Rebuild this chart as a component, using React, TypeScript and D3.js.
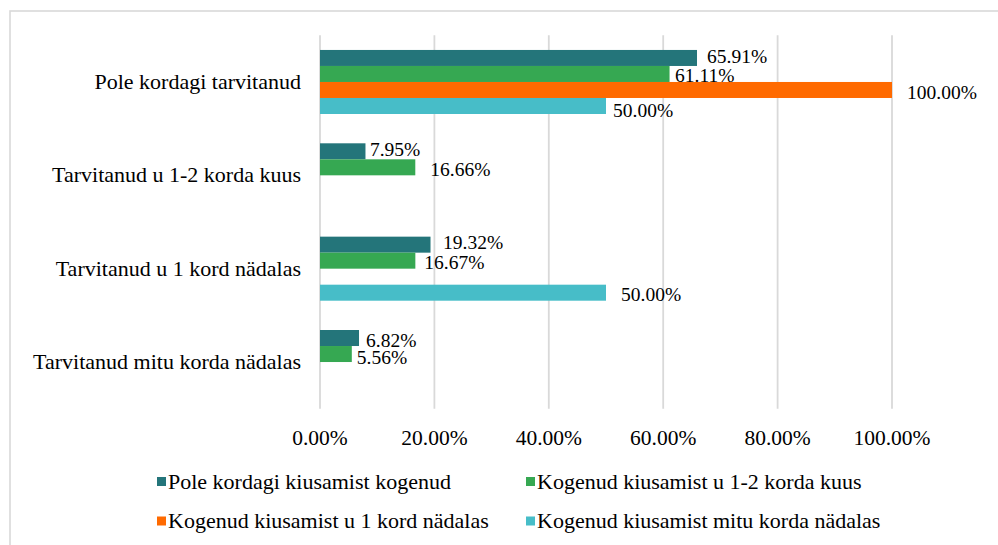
import React from "react";
import * as d3 from "d3";

const categories = [
  "Pole kordagi tarvitanud",
  "Tarvitanud u 1-2 korda kuus",
  "Tarvitanud u 1 kord nädalas",
  "Tarvitanud mitu korda nädalas",
];

const seriesNames = [
  "Pole kordagi kiusamist kogenud",
  "Kogenud kiusamist u 1-2 korda kuus",
  "Kogenud kiusamist u 1 kord nädalas",
  "Kogenud kiusamist mitu korda nädalas",
];

// values per series, in category order (percent)
const neverBullied = [65.91, 7.95, 19.32, 6.82];
const monthlyBullied = [61.11, 16.66, 16.67, 5.56];
const weeklyBullied = [100.0, 0, 0, 0];
const severalWeeklyBullied = [50.0, 0, 50.0, 0];

const seriesValues = [neverBullied, monthlyBullied, weeklyBullied, severalWeeklyBullied];

const colors = ["#24757A", "#36A852", "#FF6A00", "#47BDC8"];

const xTicks = [0, 20, 40, 60, 80, 100];

// manual label nudges [dx, dy] per series per category (as placed in the original)
const labelNudge: [number, number][][] = [
  [[10, -1], [4.5, -2], [12.5, -2], [7, 2]],
  [[5.5, 2], [15, 2], [9, 1.5], [5, 3]],
  [[15, 3], [0, 0], [0, 0], [0, 0]],
  [[7, 5], [0, 0], [15, 1.5], [0, 0]],
];

const W = 998;
const H = 545;
const FONT = "'Liberation Serif', 'Times New Roman', Times, serif";

export default function App() {
  const x = d3.scaleLinear().domain([0, 100]).range([320, 892]);
  const y = d3
    .scaleBand<string>()
    .domain(categories)
    .range([35.3, 408.7])
    .paddingInner(0.314)
    .paddingOuter(0.157);
  const inner = d3
    .scaleBand<string>()
    .domain(seriesNames)
    .range([0, y.bandwidth()])
    .padding(0);

  const legendPos = [
    [157, 481.5],
    [526, 481.5],
    [157, 521],
    [526, 521],
  ];

  return (
    <svg
      width={W}
      height={H}
      style={{ position: "absolute", left: 0, top: 0, background: "#fff" }}
      fontFamily={FONT}
    >
      <rect x={0} y={0} width={W} height={H} fill="#fff" />
      <rect x={10} y={11} width={W + 20} height={H + 20} fill="none" stroke="#d9d9d9" strokeWidth={1.6} />

      {xTicks.map((t) => (
        <line
          key={"g" + t}
          x1={x(t)}
          x2={x(t)}
          y1={y.range()[0]}
          y2={y.range()[1]}
          stroke="#d9d9d9"
          strokeWidth={1.8}
        />
      ))}

      {xTicks.map((t) => (
        <text key={"t" + t} x={x(t)} y={445} textAnchor="middle" fontSize={21.5} fill="#000">
          {d3.format(".2f")(t) + "%"}
        </text>
      ))}

      {categories.map((c) => (
        <text
          key={"c" + c}
          x={301}
          y={(y(c) as number) + y.bandwidth() / 2 + 7}
          textAnchor="end"
          fontSize={22}
          fill="#000"
        >
          {c}
        </text>
      ))}

      {seriesNames.map((s, si) =>
        categories.map((c, ci) => {
          const v = seriesValues[si][ci];
          if (!v) return null;
          const y0 = (y(c) as number) + (inner(s) as number);
          return (
            <rect
              key={s + c}
              x={x(0)}
              y={y0}
              width={x(v) - x(0)}
              height={inner.bandwidth()}
              fill={colors[si]}
            />
          );
        })
      )}

      {seriesNames.map((s, si) =>
        categories.map((c, ci) => {
          const v = seriesValues[si][ci];
          if (!v) return null;
          const cy = (y(c) as number) + (inner(s) as number) + inner.bandwidth() / 2;
          const [dx, dy] = labelNudge[si][ci];
          return (
            <text
              key={"l" + s + c}
              x={x(v) + dx}
              y={cy + dy + 6.5}
              fontSize={19.5}
              fill="#000"
            >
              {d3.format(".2f")(v) + "%"}
            </text>
          );
        })
      )}

      {seriesNames.map((s, si) => (
        <g key={"lg" + s} transform={`translate(${legendPos[si][0]},${legendPos[si][1]})`}>
          <rect x={0} y={-4.5} width={9} height={9} fill={colors[si]} />
          <text x={11} y={7} fontSize={22} fill="#000">
            {s}
          </text>
        </g>
      ))}
    </svg>
  );
}
